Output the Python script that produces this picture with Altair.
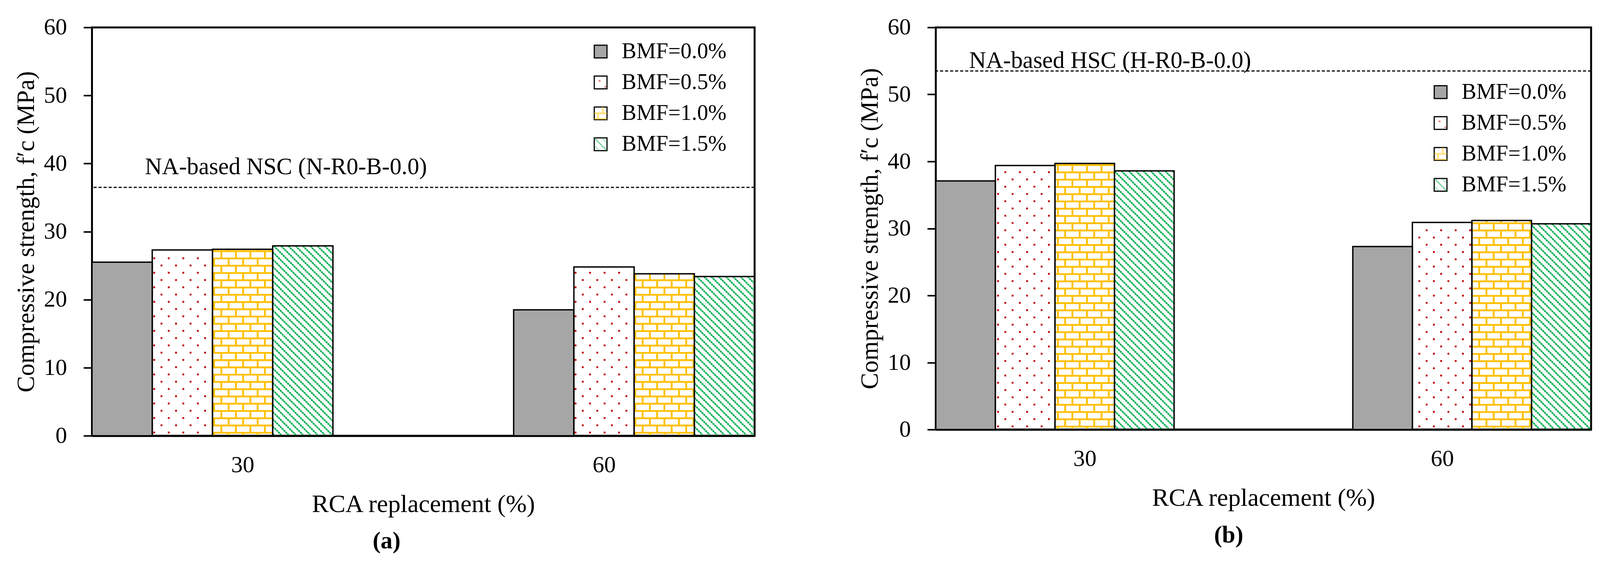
import math
import pandas as pd
import altair as alt

# ---------------- data ----------------
RCA = ["30", "60"]
BMF = ["BMF=0.0%", "BMF=0.5%", "BMF=1.0%", "BMF=1.5%"]

NSC_30 = [25.5, 27.3, 27.4, 27.9]
NSC_60 = [18.5, 24.8, 23.8, 23.4]
NSC_REF = 36.5
NSC_REF_LABEL = "NA-based NSC (N-R0-B-0.0)"

HSC_30 = [37.1, 39.4, 39.7, 38.6]
HSC_60 = [27.3, 30.9, 31.2, 30.7]
HSC_REF = 53.5
HSC_REF_LABEL = "NA-based HSC (H-R0-B-0.0)"

Y_MAX = 60
Y_TICKS = [0, 10, 20, 30, 40, 50, 60]
X_TITLE = "RCA replacement (%)"
Y_TITLE = "Compressive strength, f\u2032c (MPa)"

# ---------------- style ----------------
FONT = "Liberation Serif"
GRAY = "#A6A6A6"
RED = "#C00000"
YELLOW = "#FFC000"
GREEN = "#00B050"
CLEAR = "rgba(0,0,0,0)"
GAP = 3              # gap between groups, in bar widths
NX = 8 + GAP         # x domain in bar widths
P = 18.8             # pattern period (px)

PAT_PATHS = [
    "M0,0h0.01v0.01h-0.01Z",
    "M-0.3,-0.4h0.28v0.28h-0.28Z M0.6,0.55h0.28v0.28h-0.28Z",
    "M-1,-0.15h2v0.28h-2Z M-1,0.74h2v0.26h-2Z M0.2,-1h0.28v0.9h-0.28Z M-0.55,0.13h0.28v0.62h-0.28Z M0.2,0.74h0.28v0.26h-0.28Z",
    "M-1,-1L-0.84,-1L1,0.84L1,1L0.84,1L-1,-0.84Z "
    "M0.1,-1L0.26,-1L1,-0.26L1,-0.1Z "
    "M-1,0.1L-0.1,1L-0.26,1L-1,0.26Z",
]
PAT_COLORS = [CLEAR, RED, YELLOW, GREEN]


def patterns(vals, W, H):
    ux = W / NX
    uy = H / Y_MAX
    dots, hl, vl, dg = [], [], [], []
    for gi in range(2):
        for si in range(4):
            v = vals[gi][si]
            x0u = gi * (4 + GAP) + si
            X0 = x0u * ux
            X1 = X0 + ux
            T = v * uy
            if si == 1:
                r, y = 0, 8.3
                while y < T - 3:
                    off = 10.7 if r % 2 == 0 else 10.7 + P
                    k = math.ceil((X0 + 3 - off) / (2 * P))
                    x = off + k * 2 * P
                    while x < X1 - 3:
                        dots.append({"px": x / ux, "py": y / uy})
                        x += 2 * P
                    r += 1
                    y += P
            elif si == 2:
                r = -1
                while True:
                    lower = 0.0 if r < 0 else 7.7 + r * P
                    if lower >= T - 1:
                        break
                    upper = min(7.7 + (r + 1) * P, T)
                    if r >= 0:
                        hl.append({"hx": x0u, "hx2": x0u + 1, "hy": lower / uy})
                    off = 15.2 if r % 2 else 15.2 + P
                    k = math.ceil((X0 + 2 - off) / (2 * P))
                    x = off + k * 2 * P
                    while x < X1 - 2:
                        vl.append({"vx": x / ux, "vy": lower / uy, "vy2": upper / uy})
                        x += 2 * P
                    r += 1
            elif si == 3:
                k = math.ceil((X0 - 3.2) / P)
                c = 3.2 + k * P
                while c < X1 + T:
                    xs = max(X0, c - T)
                    xe = min(X1, c)
                    if xe - xs > 1:
                        dg.append({"dx": xs / ux, "dy": (c - xs) / uy,
                                   "dx2": xe / ux, "dy2": (c - xe) / uy})
                    c += P
    return (pd.DataFrame(dots), pd.DataFrame(hl), pd.DataFrame(vl), pd.DataFrame(dg))


def panel(v30, v60, ref, ref_label, W, H, leg_x, leg_y, ann_x, ann_dy, sub, sub_dx):
    vals = [v30, v60]
    rows = []
    for gi, rca in enumerate(RCA):
        for si, b in enumerate(BMF):
            x0 = gi * (4 + GAP) + si
            rows.append({"rca": rca, "bmf": b, "v": vals[gi][si], "x0": x0, "x1": x0 + 1})
    bars = pd.DataFrame(rows)
    dots, hl, vl, dg = patterns(vals, W, H)
    refdf = pd.DataFrame({"v": [ref], "label": [ref_label]})
    frame = pd.DataFrame({"fx": [0], "fx2": [NX], "fy": [0], "fy2": [Y_MAX]})

    xscale = alt.Scale(domain=[0, NX], nice=False, zero=False)
    yscale = alt.Scale(domain=[0, Y_MAX], nice=False, zero=True)
    x_axis = alt.Axis(
        values=[2.5, NX - 2.5],
        labelExpr=f"datum.value < {NX / 2} ? '{RCA[0]}' : '{RCA[1]}'",
        ticks=False, tickSize=0, grid=False,
        domainColor="black", domainWidth=5,
        labelFont=FONT, labelFontSize=60, labelColor="black",
        labelPadding=76, labelBaseline="middle",
        title=X_TITLE, titleFont=FONT, titleFontSize=65, titleFontWeight="normal",
        titleColor="black", titleX=W / 2, titleY=177, titleBaseline="middle",
        titleAlign="center",
    )
    y_axis = alt.Axis(
        values=Y_TICKS, grid=False,
        domainColor="black", domainWidth=4,
        tickColor="black", tickWidth=4, tickSize=22,
        labelPadding=43, labelFont=FONT, labelFontSize=60, labelColor="black",
        title=Y_TITLE, titleFont=FONT, titleFontSize=64, titleFontWeight="normal",
        titleColor="black", titleX=-170, titleY=H / 2, titleAngle=270,
        titleAlign="center", titleBaseline="middle",
    )

    def X(f):
        return alt.X(f, type="quantitative", scale=xscale, axis=x_axis)

    def Y(f):
        return alt.Y(f, type="quantitative", scale=yscale, axis=y_axis)

    common_leg = dict(orient="none", legendX=leg_x, legendY=leg_y, title=None,
                      symbolSize=1089, labelFont=FONT, labelFontSize=57,
                      labelOffset=26, rowPadding=22, padding=0, labelLimit=600)
    legA = alt.Legend(symbolType="square", symbolStrokeColor="black",
                      symbolStrokeWidth=3, labelColor="black", **common_leg)
    legB = alt.Legend(symbolStrokeWidth=0, labelColor=CLEAR, **common_leg)

    frame_l = alt.Chart(frame).mark_rect(fill="white", stroke="black", strokeWidth=5).encode(
        x=X("fx"), x2="fx2", y=Y("fy"), y2="fy2")
    base_bars = alt.Chart(bars).mark_rect(strokeWidth=0).encode(
        x=X("x0"), x2="x1", y=Y("v"), y2=alt.datum(0),
        fill=alt.Fill("bmf:N", scale=alt.Scale(domain=BMF, range=[GRAY, CLEAR, CLEAR, CLEAR]),
                      legend=legA),
    )
    dots_l = alt.Chart(dots).mark_square(size=22, color=RED, opacity=1).encode(
        x=X("px"), y=Y("py"))
    hl_l = alt.Chart(hl).mark_rule(color=YELLOW, strokeWidth=4.7).encode(
        x=X("hx"), x2="hx2", y=Y("hy"))
    vl_l = alt.Chart(vl).mark_rule(color=YELLOW, strokeWidth=4.7).encode(
        x=X("vx"), y=Y("vy"), y2="vy2")
    dg_l = alt.Chart(dg).mark_rule(color=GREEN, strokeWidth=4.2, strokeDash=[5.5, 1.2]).encode(
        x=X("dx"), y=Y("dy"), x2="dx2", y2="dy2")
    outline = alt.Chart(bars).mark_rect(fillOpacity=0, stroke="black", strokeWidth=3.5).encode(
        x=X("x0"), x2="x1", y=Y("v"), y2=alt.datum(0))
    ref_l = alt.Chart(refdf).mark_rule(color="black", strokeWidth=3, strokeDash=[8, 5]).encode(
        y=Y("v"))
    ann_l = alt.Chart(refdf).mark_text(align="left", baseline="alphabetic", dy=ann_dy,
                                       font=FONT, fontSize=61, color="black").encode(
        x=alt.value(ann_x), y=Y("v"), text="label:N")
    legB_l = alt.Chart(bars).transform_filter("false").mark_point(
        filled=True, size=1089, strokeWidth=0).encode(
        fill=alt.Fill("bmf:N", scale=alt.Scale(domain=BMF, range=PAT_COLORS), legend=legB),
        shape=alt.Shape("bmf:N", scale=alt.Scale(domain=BMF, range=PAT_PATHS), legend=legB),
    )

    return alt.layer(frame_l, base_bars, dots_l, hl_l, vl_l, dg_l, outline, ref_l, ann_l,
                     legB_l).resolve_scale(
        fill="independent", shape="independent").resolve_legend(
        fill="independent", shape="independent").properties(
        width=W, height=H,
        title=alt.TitleParams(text=sub, orient="bottom", anchor="middle", dx=sub_dx, offset=33,
                              font=FONT, fontSize=62, fontWeight="bold", color="black"),
    )


WL, HL = 1715, 1057
WR, HR = 1696, 1041

left = panel(NSC_30, NSC_60, NSC_REF, NSC_REF_LABEL, WL, HL, 1288, 34, 137, -34, "(a)", -95)
right = panel(HSC_30, HSC_60, HSC_REF, HSC_REF_LABEL, WR, HR, 1278, 139, 86, -8, "(b)", -90)

chart = alt.hconcat(left, right, spacing=2422 - 238 - WL, bounds="flush").resolve_scale(
    fill="independent", shape="independent").resolve_legend(
    fill="independent", shape="independent").configure(
    font=FONT, background="white").configure_view(
    stroke="black", strokeWidth=4).properties(
    padding={"left": 25, "top": 23, "right": 10, "bottom": 10})

chart.save("out.html", embed_options={"renderer": "svg", "actions": False})
